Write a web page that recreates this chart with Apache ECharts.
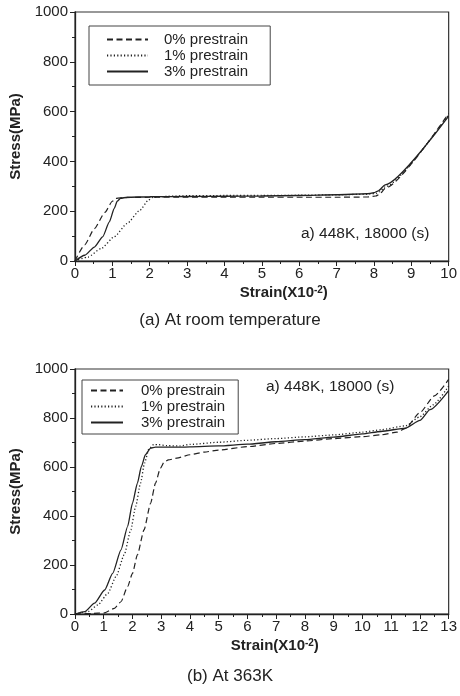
<!DOCTYPE html>
<html><head><meta charset="utf-8">
<script src="https://cdn.jsdelivr.net/npm/echarts@6/dist/echarts.min.js"></script>
<style>html,body{margin:0;padding:0;background:#fff}#c{width:460px;height:696px}</style>
</head><body><div id="c"></div>
<script>
// ---- data (strain x10^-2, stress MPa) ----
const seriesNames = ['0% prestrain', '1% prestrain', '3% prestrain'];
const xTicksTop = [0,1,2,3,4,5,6,7,8,9,10];
const xTicksBottom = [0,1,2,3,4,5,6,7,8,9,10,11,12,13];
const yTicks = [0,200,400,600,800,1000];

// (a) room temperature
const rt0 = [[0,0],[0.26,65],[0.52,130],[0.8,195],[1.0,240],[1.08,251],[1.22,254],[1.5,255],[2,256],[3,256],[4,256],[5,256],[6,256],[7,256],[7.8,257],[8.05,261],[8.15,268],[8.3,292],[10,593]];
const rt1 = [[0,0],[0.35,16],[0.7,50],[1.05,97],[1.39,150],[1.74,204],[1.96,244],[2.09,256],[2.5,260],[3,262],[4,263],[5,263],[6,264],[7,266],[7.8,268],[8.05,271],[8.15,278],[8.3,298],[10,588]];
const rt3 = [[0,0],[0.26,23],[0.52,56],[0.74,97],[0.92,157],[1.05,211],[1.13,240],[1.22,252],[1.4,256],[2,258],[3,259],[4,260],[5,261],[6,263],[7,266],[7.8,270],[8.0,274],[8.12,282],[8.3,306],[10,582]];

// (b) 363K
const t0 = [[0,0],[0.57,2],[1.03,5],[1.37,23],[1.6,50],[1.83,112],[2.0,166],[2.17,241],[2.4,343],[2.63,452],[2.8,534],[2.97,595],[3.1,620],[3.25,629],[3.54,636],[4.0,650],[4.5,661],[5,669],[6,683],[7,696],[8,706],[9,716],[10,724],[10.64,731],[11.2,742],[11.5,758],[12,822],[12.5,890],[13,958]];
const t1 = [[0,0],[0.46,10],[0.8,37],[1.14,84],[1.43,153],[1.71,241],[1.94,343],[2.11,439],[2.28,534],[2.42,616],[2.57,673],[2.74,692],[2.91,691],[3.2,687],[3.65,686],[4,692],[5,701],[6,709],[7,716],[8,723],[9,731],[10,742],[10.64,752],[11.5,768],[12,805],[12.46,854],[13,930]];
const t3 = [[0,0],[0.34,10],[0.68,44],[1.03,98],[1.31,166],[1.6,262],[1.83,357],[2.0,452],[2.17,534],[2.31,602],[2.45,650],[2.63,677],[2.8,681],[3.08,681],[3.65,681],[4,682],[5,686],[6,693],[7,703],[8,712],[9,722],[10,735],[10.64,745],[11.5,759],[12,790],[12.35,834],[13,912]];

const FONT = 'Liberation Sans, Arial, Helvetica, sans-serif';
const INK = '#222';
const styles = [
  {type:[6,3.5], width:1.2},
  {type:[1.2,2.2], width:1.3},
  {type:'solid', width:1.3}
];

function yAx(gi){
  return {
    gridIndex: gi, type:'value', min:0, max:1000, interval:200,
    name:'Stress(MPa)', nameLocation:'middle', nameGap:52,
    nameTextStyle:{fontFamily:FONT, fontSize:15, fontWeight:'bold', color:INK},
    axisLine:{show:true, lineStyle:{color:INK, width:1.3}},
    axisTick:{show:true, length:5, lineStyle:{color:INK}},
    minorTick:{show:true, splitNumber:2, length:3, lineStyle:{color:INK}},
    splitLine:{show:false},
    axisLabel:{fontFamily:FONT, fontSize:15, color:INK, margin:7,
      formatter: v => yTicks.includes(v) ? String(v) : ''}
  };
}
function xAx(gi, max, ticks, padLeft){
  return {
    gridIndex: gi, type:'value', min:0, max:max, interval:1,
    name:'Strain(X10{sup|-2})', nameLocation:'middle', nameGap:24,
    nameTextStyle:{fontFamily:FONT, fontSize:15, fontWeight:'bold', color:INK, padding:[0,0,0,padLeft],
      rich:{sup:{fontFamily:FONT, fontSize:10, fontWeight:'bold', color:INK, verticalAlign:'top', padding:[0,0,6,0]}}},
    axisLine:{show:true, onZero:false, lineStyle:{color:INK, width:1.3}},
    axisTick:{show:true, length:5, lineStyle:{color:INK}},
    minorTick:{show:true, splitNumber:2, length:3, lineStyle:{color:INK}},
    splitLine:{show:false},
    axisLabel:{fontFamily:FONT, fontSize:15, color:INK, margin:5,
      formatter: v => ticks.includes(v) ? String(v) : ''}
  };
}
function mk(name, data, i, gi){
  return {
    name:name, type:'line', xAxisIndex:gi, yAxisIndex:gi, data:data,
    showSymbol:false, symbol:'none', smooth:0.2, smoothMonotone:'x',
    lineStyle:{color:INK, type:styles[i].type, width:styles[i].width},
    itemStyle:{color:INK}, silent:true, animation:false
  };
}

const legendCommon = {
  orient:'vertical', itemHeight:14, itemGap:1, borderColor:'#444', borderWidth:1,
  data:seriesNames, selectedMode:false,
  itemStyle:{opacity:0, borderWidth:0}
};

const chart = echarts.init(document.getElementById('c'), null, {renderer:'canvas'});
chart.setOption({
  animation:false,
  backgroundColor:'#fff',
  grid:[
    {left:69, top:12, width:383, height:249, show:true, borderColor:'#333', borderWidth:1.2, backgroundColor:'transparent'},
    {left:69, top:369, width:380, height:245, show:true, borderColor:'#333', borderWidth:1.2, backgroundColor:'transparent'}
  ],
  xAxis:[xAx(0,10,xTicksTop,44), xAx(1,13,xTicksBottom,26)],
  yAxis:[yAx(0), yAx(1)],
  legend:[
    Object.assign({}, legendCommon, {left:89, top:26, padding:[6,22,6,17], itemWidth:41,
     textStyle:{fontFamily:FONT, fontSize:15, color:INK, padding:[0,0,0,11]}}),
    Object.assign({}, legendCommon, {left:82, top:380, padding:[3,13,4,8], itemWidth:32,
     textStyle:{fontFamily:FONT, fontSize:15, color:INK, padding:[0,0,0,13]}})
  ],
  graphic:[
    {type:'text', left:301, top:226, style:{text:'a) 448K, 18000 (s)', font:'15.5px '+FONT, fill:INK}},
    {type:'text', left:266, top:379, style:{text:'a) 448K, 18000 (s)', font:'15.5px '+FONT, fill:INK}},
    {type:'text', left:'center', top:312, style:{text:'(a) At room temperature', font:'17px '+FONT, fill:INK, textAlign:'center'}},
    {type:'text', left:'center', top:668, style:{text:'(b) At 363K', font:'17px '+FONT, fill:INK, textAlign:'center'}}
  ],
  series:[
    mk(seriesNames[0], rt0, 0, 0), mk(seriesNames[1], rt1, 1, 0), mk(seriesNames[2], rt3, 2, 0),
    mk(seriesNames[0], t0, 0, 1), mk(seriesNames[1], t1, 1, 1), mk(seriesNames[2], t3, 2, 1)
  ]
});
</script></body></html>
